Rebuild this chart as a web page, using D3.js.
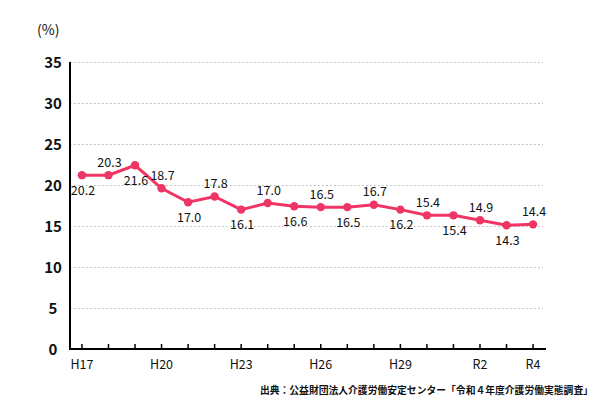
<html>
  <head>
    <meta charset="utf-8">
    <script src="https://cdnjs.cloudflare.com/ajax/libs/d3/7.8.5/d3.min.js"></script>
  </head>
  <body style="margin:0;font-family:'Noto Sans CJK JP',sans-serif;">
    <style>
      .grid line {stroke:#b5b5b5; stroke-dasharray:1.5,2.5;}
      .grid path {display:none;}
      .ylab text {font-size:15px; font-weight:bold; fill:#111;}
      .xlab text {font-size:12.5px; fill:#111;}
      .val {font-size:12.5px; fill:#111; text-anchor:middle;}
    </style>
    <div id="scene"></div>
    <script>

// D A T A

      // fiscal years, Heisei then Reiwa
      let years = ['H17','H18','H19','H20','H21','H22','H23','H24','H25','H26',
                   'H27','H28','H29','H30','R1','R2','R3','R4']
      // where the markers sit in the picture
      let plotted = [21.2,21.2,22.4,19.6,17.9,18.6,17.0,17.8,17.4,17.3,
                     17.3,17.6,17.0,16.3,16.3,15.7,15.1,15.2]
      // the numbers printed next to them
      let printed = ['20.2','20.3','21.6','18.7','17.0','17.8','16.1','17.0','16.6','16.5',
                     '16.5','16.7','16.2','15.4','15.4','14.9','14.3','14.4']
      let shownYears = ['H17','H20','H23','H26','H29','R2','R4']
      let yTicks = [0,5,10,15,20,25,30,35]
      let source = '出典：公益財団法人介護労働安定センター「令和４年度介護労働実態調査」'

// S C E N E

      let svg = d3.select('#scene').append('svg')
        .attr('width',600).attr('height',400)

      let x = d3.scalePoint().domain(years).range([70,545]).padding(0.45)
      let y = d3.scaleLinear().domain([0,35]).range([349,62])

      svg.append('text')
        .attr('x',37).attr('y',35)
        .style('font-size','14px').style('fill','#111')
        .text('(%)')

      // grid
      svg.append('g')
        .attr('class','grid')
        .attr('transform','translate(70,0)')
        .call(d3.axisRight(y).tickValues(yTicks.slice(1)).tickSize(473).tickFormat(''))

      // y labels
      let ylab = svg.append('g').attr('class','ylab')
      ylab.selectAll('text').data(yTicks).enter()
        .append('text')
          .attr('x',53).attr('y',d=>y(d)+5.5)
          .attr('text-anchor','middle')
          .text(d=>d)

      // axes
      svg.append('line').attr('x1',70).attr('x2',70).attr('y1',y(35)).attr('y2',y(0)+1)
        .attr('stroke','#000').attr('stroke-width',2)
      svg.append('line').attr('x1',69).attr('x2',546).attr('y1',y(0)).attr('y2',y(0))
        .attr('stroke','#000').attr('stroke-width',2)
      svg.append('g').selectAll('line').data(years).enter()
        .append('line')
          .attr('x1',d=>x(d)).attr('x2',d=>x(d))
          .attr('y1',y(0)).attr('y2',y(0)-5)
          .attr('stroke','#000').attr('stroke-width',1.5)

      let xlab = svg.append('g').attr('class','xlab')
      xlab.selectAll('text').data(shownYears).enter()
        .append('text')
          .attr('x',d=>x(d)).attr('y',369)
          .attr('text-anchor','middle')
          .text(d=>d)

// R E N D E R

      let pts = years.map((k,i)=>({k, v:plotted[i], t:printed[i], i}))

      svg.append('path')
        .datum(pts)
        .attr('fill','none')
        .attr('stroke','#ef3564')
        .attr('stroke-width',3)
        .attr('d',d3.line().x(d=>x(d.k)).y(d=>y(d.v)))

      svg.append('g').selectAll('circle').data(pts).enter()
        .append('circle')
          .attr('cx',d=>x(d.k)).attr('cy',d=>y(d.v))
          .attr('r',4.2)
          .attr('fill','#ef3564')

      svg.append('g').selectAll('text').data(pts).enter()
        .append('text')
          .attr('class','val')
          .attr('x',d=>x(d.k)+1)
          .attr('y',d=>y(d.v) + (d.i%2 ? -8.5 : 19.5))
          .text(d=>d.t)

      svg.append('text')
        .attr('x',593).attr('y',394)
        .attr('text-anchor','end')
        .style('font-size','9.8px').style('font-weight','bold').style('fill','#111')
        .text(source)

    </script>
  </body>
</html>
